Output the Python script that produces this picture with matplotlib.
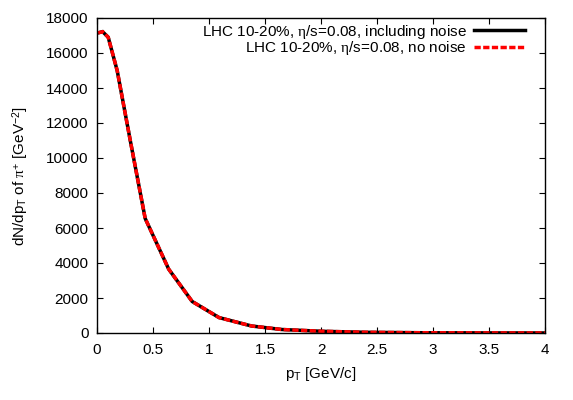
"""Pion pT spectrum, LHC 10-20%, with and without noise."""

import matplotlib
matplotlib.use('Agg')
import matplotlib.pyplot as plt

plt.rcParams['font.family'] = ['Liberation Sans', 'DejaVu Sans']
plt.rcParams['font.size'] = 11
plt.rcParams['mathtext.fontset'] = 'custom'
plt.rcParams['mathtext.rm'] = 'Liberation Serif'
plt.rcParams['mathtext.sf'] = 'Liberation Sans'
plt.rcParams['mathtext.it'] = 'Liberation Serif:italic'

# spectrum
pt = [0.01, 0.05, 0.1, 0.18, 0.3, 0.43, 0.64, 0.85, 1.09, 1.38, 1.65, 2.0, 2.4, 2.9, 3.5, 4.0]
dndpt_noise = [17150, 17220, 16900, 15000, 10900, 6550, 3650, 1800, 880, 400, 200, 100, 40, 15, 5, 2]
dndpt_clean = [17150, 17220, 16900, 15000, 10900, 6550, 3650, 1800, 880, 400, 200, 100, 40, 15, 5, 2]

label_noise = r'LHC 10-20%, $\mathrm{\eta}$/s=0.08, including noise'
label_clean = r'LHC 10-20%, $\mathrm{\eta}$/s=0.08, no noise'

xticks = [0, 0.5, 1, 1.5, 2, 2.5, 3, 3.5, 4]
xticklabels = ['0', '0.5', '1', '1.5', '2', '2.5', '3', '3.5', '4']
yticks = list(range(0, 18001, 2000))

fig = plt.figure(figsize=(5.73, 4.0), dpi=100)
ax = fig.add_axes([97 / 573, 67 / 400, 448 / 573, 315 / 400])

l1, = ax.plot(pt, dndpt_noise, color='black', lw=2.5, solid_joinstyle='miter')
l2, = ax.plot(pt, dndpt_clean, color='#ff0000', lw=2.5, dashes=(1.8, 0.7))

ax.set_xlim(0, 4)
ax.set_ylim(0, 18000)
ax.set_xticks(xticks)
ax.set_xticklabels(xticklabels)
ax.set_yticks(yticks)
ax.tick_params(direction='in', length=4.3, width=0.8, top=True, right=True)
ax.tick_params(axis='x', pad=7)
ax.tick_params(axis='y', pad=6)
for sp in ax.spines.values():
    sp.set_linewidth(1.0)

ax.set_xlabel(r'p$_\mathsf{T}$ [GeV/c]', labelpad=6)
ax.set_ylabel(r'dN/dp$_\mathsf{T}$ of $\mathrm{\pi}^\mathsf{+}$ [GeV$^\mathsf{-2}$]', labelpad=11)

# gnuplot style key: text right-aligned, sample on the right
leg1 = ax.legend([l1], [label_noise], loc='center right', bbox_to_anchor=(0.955, 0.9565),
                 frameon=False, markerfirst=False, handlelength=3.3, handletextpad=0.5,
                 borderaxespad=0, borderpad=0)
ax.add_artist(leg1)
ax.legend([l2], [label_clean], loc='center right', bbox_to_anchor=(0.955, 0.9038),
          frameon=False, markerfirst=False, handlelength=3.3, handletextpad=0.5,
          borderaxespad=0, borderpad=0)

fig.savefig('out.png', dpi=100)
